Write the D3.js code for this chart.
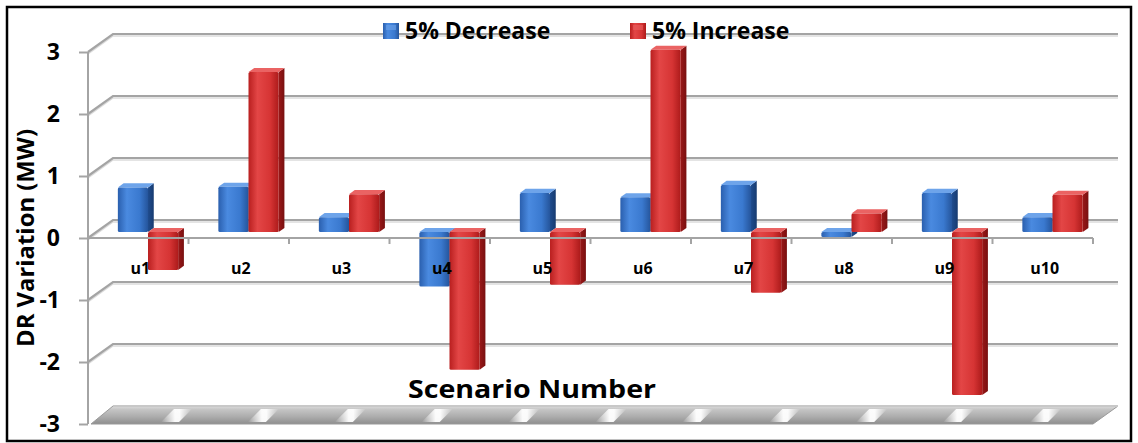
<!DOCTYPE html>
<html>
<head>
<meta charset="utf-8">
<script src="https://cdn.jsdelivr.net/npm/d3@7"></script>
<style>
  html, body { margin: 0; padding: 0; background: #fff; }
  svg { display: block; }
  text { font-family: "Open Sans", "Liberation Sans", sans-serif; font-weight: 700; fill: #000; }
</style>
</head>
<body>
<svg id="chart" width="1138" height="443"></svg>
<script>
// Scenario categories and DR variation (MW) for each load change
const categories = ["u1", "u2", "u3", "u4", "u5", "u6", "u7", "u8", "u9", "u10"];
const decrease5 = [0.72, 0.73, 0.24, -0.88, 0.63, 0.56, 0.76, -0.08, 0.63, 0.24];
const increase5 = [-0.61, 2.58, 0.61, -2.22, -0.85, 2.94, -0.98, 0.30, -2.63, 0.60];
const seriesNames = ["5% Decrease", "5% Increase"];
const yTicks = [-3, -2, -1, 0, 1, 2, 3];
const yTitle = "DR Variation (MW)";
const xTitle = "Scenario Number";

const svg = d3.select("#chart");
const defs = svg.append("defs");

// 3D frame: front plane plus a depth vector pointing up and to the right
const depth = { dx: 25, dy: -18 };
const x = d3.scaleBand().domain(categories).range([88, 1093]).paddingInner(0).paddingOuter(0);
const y = d3.scaleLinear().domain([-3, 3]).range([424, 52]);
const xs = d3.scaleBand().domain(seriesNames).range([0.215, 0.815]); // fraction of a category
const barDepth = [0.33, 0.56];

const P = (px, v, t) => [px + depth.dx * t, y(v) + depth.dy * t];
const poly = pts => "M" + pts.map(p => p.join(",")).join("L") + "Z";

// Gradients for the glossy bar faces
const palettes = {
  "5% Decrease": { front: ["#2a5fae", "#4a8ae0", "#3a79cf", "#25559c"], top: "#6ea4ea", side: ["#1f4c8e", "#173b70"] },
  "5% Increase": { front: ["#b91f1f", "#e34646", "#d63434", "#ad1b1b"], top: "#ea6363", side: ["#9a1818", "#781010"] }
};
seriesNames.forEach((s, i) => {
  const p = palettes[s];
  const gf = defs.append("linearGradient").attr("id", "front" + i).attr("x1", 0).attr("x2", 1).attr("y1", 0).attr("y2", 0);
  [0, 0.3, 0.72, 1].forEach((o, k) => gf.append("stop").attr("offset", o).attr("stop-color", p.front[k]));
  const gs = defs.append("linearGradient").attr("id", "side" + i).attr("x1", 0).attr("x2", 1).attr("y1", 0).attr("y2", 0);
  gs.append("stop").attr("offset", 0).attr("stop-color", p.side[0]);
  gs.append("stop").attr("offset", 1).attr("stop-color", p.side[1]);
});

// Floor gradient and highlight texture
const gFloor = defs.append("linearGradient").attr("id", "floorGrad").attr("x1", 0).attr("x2", 0).attr("y1", 0).attr("y2", 1);
[["0", "#dcdcdc"], ["0.2", "#c4c4c4"], ["0.6", "#acacac"], ["1", "#8e8e8e"]].forEach(([o, c]) =>
  gFloor.append("stop").attr("offset", o).attr("stop-color", c));
const gStripe = defs.append("linearGradient").attr("id", "stripeGrad").attr("x1", 0).attr("x2", 1).attr("y1", 0).attr("y2", 0);
[["0", 0], ["0.45", 0.95], ["0.6", 0.95], ["1", 0]].forEach(([o, a]) =>
  gStripe.append("stop").attr("offset", o).attr("stop-color", "#ffffff").attr("stop-opacity", a));

// Walls: grid lines on the back wall and on the left side wall
const grid = svg.append("g");
yTicks.forEach(v => {
  if (v === -3) return;
  const a = P(x.range()[0], v, 0), b = P(x.range()[0], v, 1), c = P(x.range()[1], v, 1);
  grid.append("path").attr("d", `M${a}L${b}L${c}`).attr("fill", "none")
    .attr("stroke", "#dcdcdc").attr("stroke-width", 1.5).attr("transform", "translate(0,2)");
  grid.append("path").attr("d", `M${a}L${b}L${c}`).attr("fill", "none")
    .attr("stroke", "#a4a4a4").attr("stroke-width", 2.2);
});

// Floor slab at the bottom of the value range
const floorPts = [P(x.range()[0] + 3, -3, 0), P(x.range()[1], -3, 0), P(x.range()[1], -3, 1), P(x.range()[0], -3, 1)];
svg.append("path").attr("d", poly(floorPts)).attr("fill", "url(#floorGrad)").attr("stroke", "#9a9a9a").attr("stroke-width", 1);
const clip = defs.append("clipPath").attr("id", "floorClip");
clip.append("path").attr("d", poly(floorPts));
const stripes = svg.append("g").attr("clip-path", "url(#floorClip)");
d3.range(170, 1100, 86.9).forEach(sx => {
  const fy = y(-3);
  stripes.append("path")
    .attr("d", `M${sx - 9},${fy - 2}L${sx + 9},${fy - 2}L${sx + 22},${fy - 15}L${sx + 4},${fy - 15}Z`)
    .attr("fill", "url(#stripeGrad)");
});
svg.append("line").attr("x1", floorPts[3][0]).attr("y1", floorPts[3][1]).attr("x2", floorPts[2][0]).attr("y2", floorPts[2][1])
  .attr("stroke", "#c8c8c8").attr("stroke-width", 2);

// Value axis line and ticks
svg.append("line").attr("x1", 88).attr("x2", 88).attr("y1", y(3)).attr("y2", y(-3))
  .attr("stroke", "#a4a4a4").attr("stroke-width", 2);
const yAxis = d3.axisLeft(y).tickValues(yTicks).tickSize(9).tickPadding(19).tickFormat(d => String(d));
const gy = svg.append("g").attr("transform", "translate(88,0)").call(yAxis);
gy.select(".domain").remove();
gy.selectAll(".tick line").attr("stroke", "#a4a4a4").attr("stroke-width", 2);
gy.selectAll(".tick text").attr("font-size", 23).attr("font-family", "Open Sans").attr("font-weight", 700).attr("fill", "#000");

// Bars
const rows = categories.map((c, i) => ({ cat: c, vals: [decrease5[i], increase5[i]] }));
const bars = svg.append("g");
rows.forEach(r => {
  r.vals.forEach((v, si) => {
    const s = seriesNames[si];
    const bw = x.bandwidth();
    const x0 = x(r.cat) + xs(s) * bw;
    const x1 = x0 + xs.bandwidth() * bw;
    const top = Math.max(v, 0), bot = Math.min(v, 0);
    const [t0, t1] = barDepth;
    const g = bars.append("g");
    // right side face
    g.append("path").attr("d", poly([P(x1, top, t0), P(x1, top, t1), P(x1, bot, t1), P(x1, bot, t0)]))
      .attr("fill", `url(#side${si})`);
    // top face
    g.append("path").attr("d", poly([P(x0, top, t0), P(x1, top, t0), P(x1, top, t1), P(x0, top, t1)]))
      .attr("fill", palettes[s].top);
    // front face
    const f0 = P(x0, top, t0), f1 = P(x1, bot, t0);
    g.append("rect").attr("x", f0[0]).attr("y", f0[1]).attr("width", f1[0] - f0[0]).attr("height", Math.max(1, f1[1] - f0[1]))
      .attr("rx", 1.5).attr("fill", `url(#front${si})`);
  });
});

// Category axis along the front edge at zero
svg.append("line").attr("x1", x.range()[0]).attr("x2", x.range()[1]).attr("y1", y(0)).attr("y2", y(0))
  .attr("stroke", "#a4a4a4").attr("stroke-width", 2.2);
svg.append("g").selectAll("line").data(categories).join("line")
  .attr("x1", d => x(d) + x.bandwidth()).attr("x2", d => x(d) + x.bandwidth())
  .attr("y1", y(0)).attr("y2", y(0) + 6).attr("stroke", "#a4a4a4").attr("stroke-width", 2);
svg.append("g").selectAll("text").data(categories).join("text")
  .attr("x", d => x(d) + x.bandwidth() / 2 + 2).attr("y", y(0) + 36)
  .attr("text-anchor", "middle").attr("font-size", 16).text(d => d);

// Axis titles
svg.append("text").attr("x", 532).attr("y", 398).attr("text-anchor", "middle").attr("font-size", 25)
  .attr("textLength", 248).attr("lengthAdjust", "spacingAndGlyphs").text(xTitle);
svg.append("text").attr("transform", "translate(34,238) rotate(-90)").attr("text-anchor", "middle")
  .attr("font-size", 23).attr("textLength", 218).attr("lengthAdjust", "spacingAndGlyphs").text(yTitle);

// Legend
const legendX = [383, 630];
const leg = svg.append("g");
seriesNames.forEach((s, i) => {
  const gl = leg.append("g").attr("transform", `translate(${legendX[i]},23)`);
  gl.append("rect").attr("width", 16).attr("height", 16).attr("fill", `url(#front${i})`);
  gl.append("rect").attr("x", 3).attr("y", 2).attr("width", 10).attr("height", 5).attr("fill", palettes[s].top).attr("opacity", 0.6);
  gl.append("text").attr("x", 22).attr("y", 16).attr("font-size", 23).text(s);
});

// Outer frame
svg.append("rect").attr("x", 7).attr("y", 7).attr("width", 1124).attr("height", 434)
  .attr("fill", "none").attr("stroke", "#000").attr("stroke-width", 2.5);
</script>
</body>
</html>
